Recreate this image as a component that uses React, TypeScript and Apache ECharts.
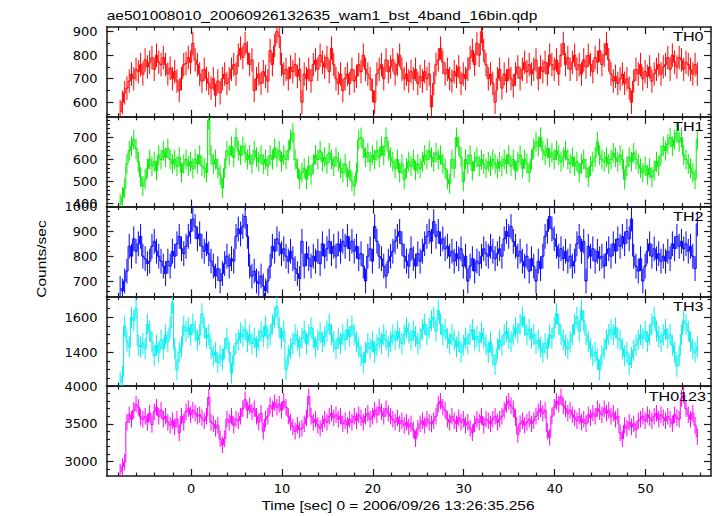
import React, { useEffect, useRef } from "react";
import * as echarts from "echarts";

const TITLE = "ae501008010_20060926132635_wam1_bst_4band_16bin.qdp";
const X_TITLE = "Time [sec] 0 = 2006/09/26 13:26:35.256";
const Y_TITLE = "Counts/sec";

// time bins (seconds): first bin centre and bin width
const T_START = -7.8;
const BIN_WIDTH = 0.25;

const X_MIN = -9.3;
const X_MAX = 57.2;
const X_MAJOR = [0, 10, 20, 30, 40, 50];
const X_MINOR = [-8, -6, -4, -2, 2, 4, 6, 8, 12, 14, 16, 18, 22, 24, 26, 28, 32, 34, 36, 38, 42, 44, 46, 48, 52, 54, 56];

const TH0 = [
  560, 600, 640, 660, 690, 720, 700, 740, 730, 760, 720, 780, 750, 770, 790, 740, 800, 770, 760, 790,
  760, 720, 745, 700, 730, 690, 650, 700, 760, 765, 790, 770, 850, 780, 760, 720, 690, 740, 700, 680,
  660, 700, 630, 690, 640, 700, 720, 680, 700, 740, 760, 720, 800, 830, 790, 850, 810, 760, 780, 650,
  700, 720, 680, 730, 710, 690, 820, 760, 840, 900, 880, 760, 720, 740, 700, 750, 730, 760, 710, 740,
  600, 720, 700, 740, 690, 760, 780, 740, 800, 770, 750, 790, 730, 830, 760, 700, 680, 720, 650, 700,
  720, 680, 740, 690, 710, 760, 730, 800, 740, 720, 700, 650, 600, 720, 740, 760, 700, 780, 730, 750,
  780, 720, 760, 800, 740, 700, 720, 690, 730, 700, 740, 680, 710, 690, 730, 700, 720, 580, 680, 760,
  780, 830, 770, 720, 740, 700, 690, 730, 710, 750, 680, 720, 700, 740, 790, 820, 760, 850, 800, 900,
  820, 760, 700, 720, 680, 600, 700, 740, 660, 720, 690, 740, 700, 670, 720, 750, 700, 740, 770, 730,
  760, 720, 740, 780, 700, 750, 730, 770, 720, 800, 760, 740, 780, 720, 800, 850, 760, 790, 740, 770,
  800, 740, 760, 720, 780, 750, 800, 760, 730, 790, 770, 820, 760, 800, 850, 780, 720, 690, 710, 680,
  700, 720, 680, 700, 660, 600, 690, 740, 720, 760, 700, 730, 710, 750, 690, 720, 740, 760, 720, 750,
  760, 790, 740, 800, 770, 750, 790, 780, 740, 770, 760, 740, 720, 760, 720,
];
const TH1 = [
  400, 430, 470, 580, 640, 660, 690, 650, 590, 520, 480, 510, 560, 600, 570, 590, 550, 620, 600, 640,
  610, 650, 600, 580, 600, 570, 610, 540, 580, 600, 570, 590, 560, 600, 580, 620, 570, 560, 540, 780,
  620, 580, 600, 560, 530, 470, 560, 640, 620, 660, 610, 700, 640, 620, 660, 630, 600, 620, 580, 640,
  610, 590, 620, 580, 600, 570, 620, 600, 650, 610, 640, 590, 620, 600, 640, 690, 720, 600, 560, 510,
  540, 560, 510, 570, 530, 580, 620, 600, 640, 590, 610, 580, 630, 600, 570, 610, 590, 560, 540, 580,
  520, 550, 500, 480, 540, 690, 700, 650, 610, 630, 590, 620, 600, 640, 610, 660, 620, 700, 640, 610,
  590, 560, 600, 540, 580, 510, 560, 590, 570, 600, 550, 580, 560, 590, 620, 600, 640, 610, 590, 630,
  600, 620, 580, 560, 510, 490, 600, 560, 700, 660, 610, 500, 600, 580, 620, 550, 590, 610, 570, 600,
  580, 560, 590, 570, 600, 580, 560, 590, 570, 600, 580, 620, 570, 600, 550, 590, 620, 560, 600, 580,
  540, 600, 650, 680, 660, 700, 640, 620, 650, 610, 630, 600, 640, 620, 590, 610, 640, 600, 580, 610,
  570, 590, 540, 580, 600, 560, 520, 570, 590, 610, 680, 620, 600, 590, 610, 580, 600, 630, 610, 590,
  620, 600, 510, 570, 610, 590, 630, 600, 580, 560, 540, 570, 530, 560, 520, 550, 590, 570, 620, 660,
  640, 670, 700, 660, 690, 720, 680, 700, 620, 600, 580, 560, 540, 510, 690,
];
const TH2 = [
  670, 660, 700, 740, 840, 800, 870, 820, 850, 880, 800, 790, 770, 780, 840, 860, 820, 800, 780, 760,
  730, 780, 760, 820, 800, 850, 880, 830, 810, 840, 880, 900, 950, 920, 870, 890, 840, 820, 850, 810,
  780, 760, 720, 750, 700, 730, 770, 800, 760, 790, 780, 880, 910, 890, 920, 960, 880, 760, 720, 740,
  700, 690, 720, 680, 660, 700, 760, 840, 820, 870, 850, 810, 830, 800, 780, 820, 790, 750, 730, 710,
  860, 760, 810, 790, 760, 800, 780, 820, 770, 850, 800, 830, 860, 810, 840, 800, 850, 820, 860, 840,
  880, 830, 860, 820, 840, 790, 810, 760, 700, 800, 830, 780, 920, 860, 800, 790, 760, 720, 780, 800,
  820, 860, 880, 900, 850, 800, 780, 760, 830, 790, 760, 810, 780, 820, 850, 880, 900, 860, 940, 880,
  900, 850, 870, 830, 840, 800, 820, 780, 810, 790, 830, 760, 800, 700, 760, 790, 740, 780, 770, 800,
  830, 810, 800, 840, 820, 790, 810, 830, 800, 870, 900, 880, 920, 860, 840, 800, 820, 780, 760, 800,
  740, 790, 760, 700, 780, 750, 800, 880, 900, 960, 910, 870, 840, 800, 830, 790, 820, 780, 800, 760,
  780, 850, 880, 820, 860, 700, 840, 800, 830, 780, 820, 790, 800, 760, 810, 830, 800, 850, 820, 870,
  840, 880, 850, 900, 870, 950, 800, 760, 740, 790, 700, 760, 820, 850, 800, 830, 790, 810, 780, 800,
  780, 820, 790, 850, 830, 880, 840, 860, 830, 850, 820, 840, 800, 750, 930,
];
const TH3 = [
  1230, 1260, 1550, 1460, 1430, 1600, 1580, 1650, 1440, 1430, 1450, 1420, 1560, 1520, 1460, 1380, 1440, 1400, 1470, 1420,
  1500, 1460, 1540, 1680, 1420, 1300, 1400, 1430, 1550, 1520, 1540, 1500, 1560, 1520, 1470, 1500, 1620, 1540, 1480, 1500,
  1420, 1380, 1400, 1340, 1380, 1360, 1420, 1480, 1400, 1280, 1380, 1450, 1470, 1510, 1490, 1530, 1460, 1500, 1450, 1480,
  1430, 1470, 1520, 1490, 1550, 1480, 1500, 1560, 1600, 1660, 1540, 1480, 1520, 1300, 1380, 1420, 1450, 1500, 1470, 1430,
  1480, 1520, 1450, 1500, 1540, 1480, 1430, 1470, 1510, 1460, 1490, 1520, 1560, 1500, 1460, 1420, 1480, 1450, 1500, 1470,
  1530, 1490, 1550, 1500, 1460, 1430, 1380, 1340, 1400, 1450, 1420, 1460, 1400, 1440, 1480, 1450, 1500, 1470, 1430, 1460,
  1500, 1470, 1520, 1480, 1450, 1500, 1540, 1510, 1470, 1520, 1490, 1450, 1480, 1530, 1560, 1500, 1540, 1580, 1600, 1520,
  1640, 1560, 1500, 1530, 1480, 1450, 1500, 1470, 1430, 1460, 1400, 1440, 1480, 1450, 1500, 1530, 1470, 1490, 1460, 1510,
  1480, 1440, 1400, 1460, 1380, 1330, 1420, 1470, 1440, 1500, 1520, 1480, 1460, 1500, 1540, 1510, 1560, 1600, 1550, 1500,
  1530, 1480, 1500, 1450, 1470, 1430, 1400, 1450, 1420, 1500, 1480, 1540, 1620, 1560, 1500, 1470, 1440, 1420, 1460, 1500,
  1560, 1600, 1520, 1640, 1580, 1500, 1460, 1420, 1380, 1400, 1360, 1300, 1380, 1420, 1470, 1500, 1530, 1500, 1540, 1480,
  1470, 1420, 1380, 1400, 1330, 1370, 1410, 1440, 1470, 1500, 1480, 1520, 1460, 1500, 1560, 1600, 1520, 1490, 1460, 1500,
  1530, 1480, 1500, 1440, 1400, 1320, 1380, 1500, 1580, 1560, 1520, 1460, 1420, 1400, 1430,
];
const TH0123 = [
  2860, 2930, 2990, 3520, 3620, 3560, 3680, 3760, 3720, 3590, 3560, 3600, 3520, 3640, 3490, 3660, 3720, 3600, 3680, 3560,
  3600, 3520, 3480, 3540, 3460, 3560, 3380, 3600, 3520, 3660, 3700, 3620, 3680, 3640, 3600, 3620, 3580, 3540, 3600, 3850,
  3520, 3500, 3440, 3480, 3300, 3220, 3300, 3560, 3520, 3600, 3480, 3560, 3540, 3600, 3700, 3820, 3680, 3740, 3660, 3700,
  3600, 3520, 3640, 3400, 3560, 3600, 3740, 3700, 3780, 3720, 3760, 3680, 3800, 3720, 3600, 3520, 3460, 3400, 3480, 3420,
  3440, 3500, 3580, 3860, 3600, 3520, 3560, 3480, 3440, 3500, 3560, 3520, 3600, 3640, 3580, 3620, 3560, 3600, 3500, 3540,
  3480, 3560, 3520, 3600, 3540, 3620, 3580, 3520, 3600, 3640, 3560, 3600, 3680, 3620, 3720, 3660, 3600, 3700, 3640, 3600,
  3560, 3520, 3580, 3500, 3540, 3480, 3520, 3460, 3500, 3420, 3300, 3440, 3500, 3540, 3480, 3560, 3520, 3500, 3540, 3600,
  3760, 3800, 3720, 3680, 3560, 3520, 3600, 3540, 3500, 3580, 3520, 3560, 3480, 3520, 3440, 3380, 3500, 3560, 3520, 3600,
  3480, 3560, 3540, 3500, 3560, 3600, 3520, 3560, 3600, 3680, 3760, 3800, 3740, 3700, 3580, 3360, 3500, 3540, 3480, 3520,
  3560, 3500, 3540, 3600, 3660, 3700, 3640, 3680, 3400, 3320, 3600, 3720, 3800, 3760, 3860, 3740, 3700, 3640, 3680, 3620,
  3580, 3540, 3600, 3520, 3560, 3500, 3620, 3580, 3640, 3600, 3700, 3660, 3620, 3700, 3640, 3680, 3600, 3640, 3560, 3600,
  3380, 3300, 3480, 3440, 3520, 3460, 3500, 3420, 3540, 3560, 3600, 3540, 3620, 3580, 3540, 3600, 3640, 3560, 3620, 3580,
  3540, 3600, 3560, 3500, 3620, 3580, 3560, 3840, 3880, 3700, 3620, 3560, 3640, 3480, 3330,
];

// typical 1-sigma error of a bin, per band (counts/sec)
const ERR_TH0 = 50;
const ERR_TH1 = 45;
const ERR_TH2 = 50;
const ERR_TH3 = 60;
const ERR_TH0123 = 110;

const TH0_MAJOR = [600, 700, 800, 900];
const TH0_MINOR = [550, 650, 750, 850];
const TH1_MAJOR = [400, 500, 600, 700];
const TH1_MINOR = [420, 440, 460, 480, 520, 540, 560, 580, 620, 640, 660, 680, 720, 740, 760, 780];
const TH2_MAJOR = [700, 800, 900, 1000];
const TH2_MINOR = [640, 660, 680, 720, 740, 760, 780, 820, 840, 860, 880, 920, 940, 960, 980];
const TH3_MAJOR = [1400, 1600];
const TH3_MINOR = [1250, 1300, 1350, 1450, 1500, 1550, 1650, 1700];
const TH0123_MAJOR = [3000, 3500, 4000];
const TH0123_MINOR = [2900, 3100, 3200, 3300, 3400, 3600, 3700, 3800, 3900];

const PANELS = [
  { name: "TH0", values: TH0, err: ERR_TH0, min: 538, max: 920, major: TH0_MAJOR, minor: TH0_MINOR, color: "#ff0000", labelX: 703.5 },
  { name: "TH1", values: TH1, err: ERR_TH1, min: 386, max: 794, major: TH1_MAJOR, minor: TH1_MINOR, color: "#00ee00", labelX: 703.5 },
  { name: "TH2", values: TH2, err: ERR_TH2, min: 638, max: 1000, major: TH2_MAJOR, minor: TH2_MINOR, color: "#0000ff", labelX: 703.5 },
  { name: "TH3", values: TH3, err: ERR_TH3, min: 1206, max: 1719, major: TH3_MAJOR, minor: TH3_MINOR, color: "#00f0f0", labelX: 703.5 },
  { name: "TH0123", values: TH0123, err: ERR_TH0123, min: 2805, max: 4000, major: TH0123_MAJOR, minor: TH0123_MINOR, color: "#ff00ff", labelX: 706 },
];

const GRID_LEFT = 106.5;
const GRID_RIGHT_EDGE = 711;
const GRID_TOP = 27;
const GRID_H = 89.8;

const FRAME = { color: "#1a1a1a", width: 1.5 };
const TICK_FONT = "DejaVu Sans";
const TEXT_FONT = "Liberation Sans";
const TEXT_SCALE = 1.29;

const plain = (v: number) => String(v);

function buildOption() {
  const grid: any[] = [];
  const xAxis: any[] = [];
  const yAxis: any[] = [];
  const series: any[] = [];
  const graphic: any[] = [];

  PANELS.forEach((p, g) => {
    const top = GRID_TOP + g * GRID_H;
    grid.push({ left: GRID_LEFT, top, width: GRID_RIGHT_EDGE - GRID_LEFT, height: GRID_H, containLabel: false });

    const mkX = (position: string, values: number[], len: number, line: boolean, labels: boolean) => ({
      gridIndex: g,
      type: "value",
      min: X_MIN,
      max: X_MAX,
      position,
      splitLine: { show: false },
      axisLine: { show: line, onZero: false, lineStyle: FRAME },
      axisTick: { show: true, inside: true, length: len, customValues: values, lineStyle: { color: FRAME.color, width: 1.2 } },
      axisLabel: labels
        ? { show: true, customValues: X_MAJOR, formatter: plain, margin: 6, color: "#000", fontFamily: TICK_FONT, fontSize: 13 }
        : { show: false },
    });
    const last = g === PANELS.length - 1;
    xAxis.push(mkX("bottom", X_MAJOR, 7, true, last));
    xAxis.push(mkX("bottom", X_MINOR, 3.5, false, false));
    xAxis.push(mkX("top", X_MAJOR, 7, true, false));
    xAxis.push(mkX("top", X_MINOR, 3.5, false, false));

    const mkY = (position: string, values: number[], len: number, line: boolean, labels: boolean) => ({
      gridIndex: g,
      type: "value",
      min: p.min,
      max: p.max,
      position,
      splitLine: { show: false },
      axisLine: { show: line, onZero: false, lineStyle: FRAME },
      axisTick: { show: true, inside: true, length: len, customValues: values, lineStyle: { color: FRAME.color, width: 1.2 } },
      axisLabel: labels
        ? { show: true, customValues: p.major, formatter: plain, margin: 9, color: "#000", fontFamily: TICK_FONT, fontSize: 13 }
        : { show: false },
    });
    yAxis.push(mkY("left", p.major, 7, true, true));
    yAxis.push(mkY("left", p.minor, 3.5, false, false));
    yAxis.push(mkY("right", p.major, 7, true, false));
    yAxis.push(mkY("right", p.minor, 3.5, false, false));

    const data = p.values.map((v, i) => [T_START + i * BIN_WIDTH, v]);
    const lo = p.min;
    const hi = p.max;
    const err = p.err;
    const color = p.color;

    series.push({
      type: "custom",
      xAxisIndex: g * 4,
      yAxisIndex: g * 4,
      clip: true,
      silent: true,
      data,
      renderItem: (_params: any, api: any) => {
        const x = api.value(0);
        const y = api.value(1);
        const y1 = Math.max(y - err, lo);
        const y2 = Math.min(y + err, hi);
        if (y2 <= y1) return null;
        const a = api.coord([x, y1]);
        const b = api.coord([x, y2]);
        return {
          type: "line",
          shape: { x1: a[0], y1: a[1], x2: b[0], y2: b[1] },
          style: { stroke: color, lineWidth: 1 },
        };
      },
    });
    series.push({
      type: "line",
      xAxisIndex: g * 4,
      yAxisIndex: g * 4,
      data,
      step: "middle",
      showSymbol: false,
      symbol: "none",
      clip: true,
      silent: true,
      lineStyle: { color, width: 1 },
    });

    graphic.push({
      type: "text",
      x: p.labelX,
      y: top + 10,
      scaleX: TEXT_SCALE,
      style: {
        text: p.name,
        fontFamily: TEXT_FONT,
        fontSize: 12.5,
        fill: "#000",
        align: "right",
        verticalAlign: "middle",
      },
      z: 100,
    });
  });

  graphic.push({
    type: "text",
    x: 106.7,
    y: 16,
    scaleX: TEXT_SCALE,
    style: { text: TITLE, fontFamily: TEXT_FONT, fontSize: 12, fill: "#000", align: "left", verticalAlign: "middle" },
  });
  graphic.push({
    type: "text",
    x: 398,
    y: 506,
    scaleX: TEXT_SCALE,
    style: { text: X_TITLE, fontFamily: TEXT_FONT, fontSize: 12, fill: "#000", align: "center", verticalAlign: "middle" },
  });
  graphic.push({
    type: "text",
    x: 42,
    y: 259,
    rotation: Math.PI / 2,
    scaleX: TEXT_SCALE,
    style: { text: Y_TITLE, fontFamily: TEXT_FONT, fontSize: 12, fill: "#000", align: "center", verticalAlign: "middle" },
  });

  return {
    animation: false,
    backgroundColor: "#ffffff",
    grid,
    xAxis,
    yAxis,
    series,
    graphic,
  };
}

export default function App() {
  const ref = useRef<HTMLDivElement>(null);
  useEffect(() => {
    if (!ref.current) return;
    const chart = echarts.init(ref.current, undefined, { renderer: "svg" });
    chart.setOption(buildOption() as any);
    return () => chart.dispose();
  }, []);
  return (
    <div
      ref={ref}
      style={{ position: "absolute", left: 0, top: 0, width: 717, height: 516, background: "#fff" }}
    />
  );
}
